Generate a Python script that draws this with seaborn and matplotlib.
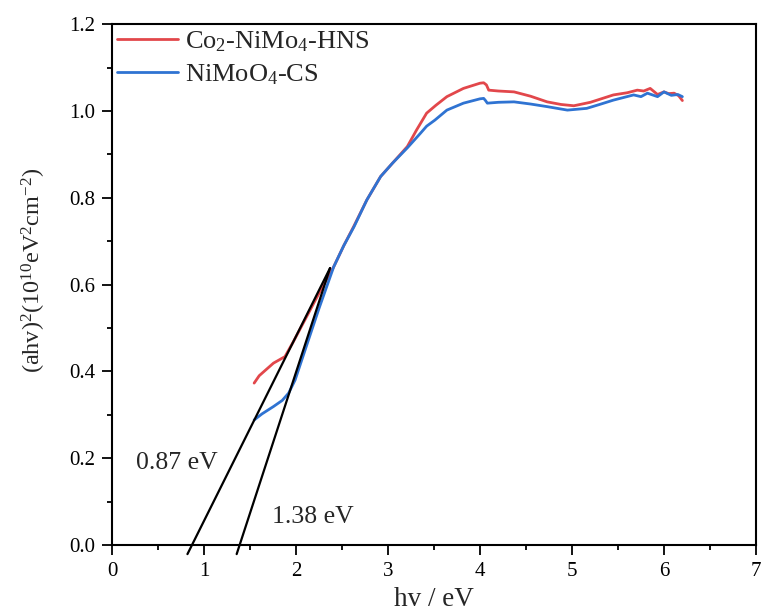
import pandas as pd
import numpy as np
import matplotlib.pyplot as plt
import seaborn as sns
from matplotlib.ticker import MultipleLocator

sns.set_theme(style="ticks")
plt.rcParams['font.family'] = ['Liberation Serif', 'DejaVu Serif']
plt.rcParams['mathtext.fontset'] = 'custom'
plt.rcParams['mathtext.rm'] = 'Liberation Serif'
plt.rcParams['mathtext.it'] = 'Liberation Serif:italic'

# curve values
hns_x = [1.545, 1.60, 1.68, 1.755, 1.88, 1.97, 2.10, 2.25, 2.41, 2.52, 2.63, 2.77, 2.92, 3.05, 3.21, 3.31,
         3.42, 3.52, 3.64, 3.82, 4.00, 4.04, 4.07, 4.095, 4.20, 4.37, 4.55, 4.73, 4.88, 5.02, 5.20,
         5.45, 5.60, 5.71, 5.78, 5.85, 5.93, 6.00, 6.05, 6.11, 6.16, 6.20]
hns_y = [0.373, 0.390, 0.405, 0.419, 0.434, 0.468, 0.520, 0.580, 0.641, 0.690, 0.735, 0.795, 0.849, 0.880, 0.918, 0.956,
         0.995, 1.013, 1.033, 1.052, 1.064, 1.065, 1.060, 1.048, 1.046, 1.044, 1.034, 1.021, 1.015, 1.012, 1.020,
         1.037, 1.042, 1.048, 1.046, 1.052, 1.038, 1.044, 1.040, 1.041, 1.035, 1.024]

cs_x = [1.545, 1.63, 1.755, 1.85, 1.92, 1.99, 2.10, 2.25, 2.41, 2.52, 2.63, 2.77, 2.92, 3.05, 3.21, 3.35,
        3.42, 3.51, 3.64, 3.82, 4.00, 4.04, 4.06, 4.08, 4.20, 4.37, 4.55, 4.73, 4.95, 5.16, 5.30,
        5.45, 5.67, 5.75, 5.82, 5.93, 6.00, 6.08, 6.15, 6.20]
cs_y = [0.288, 0.302, 0.319, 0.333, 0.350, 0.380, 0.450, 0.545, 0.641, 0.690, 0.733, 0.795, 0.849, 0.880, 0.915, 0.948,
        0.965, 0.979, 1.002, 1.018, 1.028, 1.029, 1.024, 1.018, 1.020, 1.021, 1.016, 1.010, 1.002, 1.006, 1.015,
        1.025, 1.037, 1.033, 1.041, 1.033, 1.044, 1.036, 1.038, 1.033]

# tangent lines used for the band gap
tan1_x = [0.82, 2.37]
tan1_y = [-0.021, 0.638]
tan2_x = [1.355, 2.37]
tan2_y = [-0.021, 0.638]

labels = ['Co$_2$-NiMo$_4$-HNS', 'NiMoO$_4$-CS']

df = pd.concat([
    pd.DataFrame({'x': hns_x, 'y': hns_y, 'sample': labels[0]}),
    pd.DataFrame({'x': cs_x, 'y': cs_y, 'sample': labels[1]}),
])

fig = plt.figure(figsize=(7.63, 6.12), dpi=100)
ax = fig.add_axes([0.1468, 0.1095, 0.844, 0.851])

sns.lineplot(data=df, x='x', y='y', hue='sample', palette=['#e2474b', '#2f73d2'],
             linewidth=2, sort=False, estimator=None, ax=ax)

ax.plot(tan1_x, tan1_y, color='black', lw=1.6, clip_on=False, zorder=5)
ax.plot(tan2_x, tan2_y, color='black', lw=1.6, clip_on=False, zorder=5)

ax.text(0.71, 0.188, '0.87 eV', fontsize=18.5, ha='center', va='center')
ax.text(2.18, 0.065, '1.38 eV', fontsize=18.5, ha='center', va='center')

ax.set_xlim(0, 7)
ax.set_ylim(0, 1.2)
ax.xaxis.set_major_locator(MultipleLocator(1))
ax.xaxis.set_minor_locator(MultipleLocator(0.5))
ax.yaxis.set_major_locator(MultipleLocator(0.2))
ax.yaxis.set_minor_locator(MultipleLocator(0.1))
ax.yaxis.set_major_formatter(plt.FuncFormatter(lambda v, p: f'{v:.1f}'))
ax.tick_params(which='major', direction='out', length=7, width=1.3, pad=5, labelsize=15,
               color='black', labelcolor='black')
ax.tick_params(which='minor', direction='out', length=3.6, width=1.3, color='black')
for s in ax.spines.values():
    s.set_linewidth(1.5)
    s.set_color('black')

ax.set_xlabel('hv / eV', fontsize=19.5)
ax.xaxis.set_label_coords(0.5, -0.08)
ax.set_ylabel('(ahv)$^2$(10$^{10}$eV$^2$cm$^{-2}$)', fontsize=17.5)
ax.yaxis.set_label_coords(-0.100, 0.528)

leg = ax.legend(loc='upper left', bbox_to_anchor=(0, 1), frameon=False, fontsize=19,
                handlelength=2.3, handletextpad=0.27, borderaxespad=0, labelspacing=0.3,
                borderpad=0.2)
for h in leg.get_lines():
    h.set_linewidth(2)

fig.savefig('out.png', dpi=100)
